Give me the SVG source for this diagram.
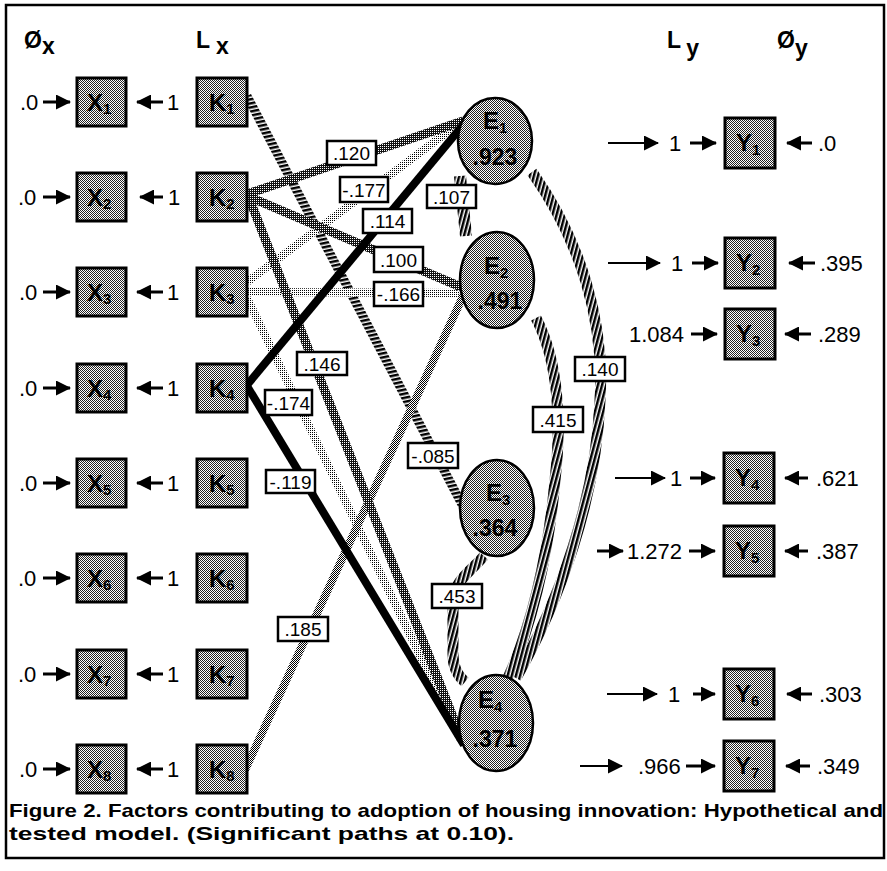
<svg xmlns="http://www.w3.org/2000/svg" width="887" height="871" viewBox="0 0 887 871">
<defs>
<style>
text{font-family:"Liberation Sans",Arial,Helvetica,sans-serif;fill:#000}
.n{font-size:22px}
.h{font-size:23px;font-weight:bold}
.bl{font-size:24px;font-weight:bold}
.sb{font-size:15px}
.lb{font-size:19px;text-anchor:middle}
.ev{font-size:23px;font-weight:bold;text-anchor:middle}
.cap{font-size:19px;font-weight:bold}
.box{fill:url(#fine);stroke:#000;stroke-width:3}
.ell{fill:url(#fine);stroke:#000;stroke-width:2.5}
.lab{fill:#fff;stroke:#000;stroke-width:2.5}
.arr{stroke:#000;stroke-width:3;fill:none;marker-end:url(#ah)}
.la{stroke:#000;stroke-width:2;fill:none;marker-end:url(#ah)}
.p{fill:none}
.blk{stroke:#000;stroke-width:8}
.dk{stroke:url(#pdk);stroke-width:9}
.md{stroke:url(#pmd);stroke-width:8}
.lt{stroke:url(#plt);stroke-width:8}
.hh{stroke:url(#hatchH);stroke-width:9}
.hv{stroke:url(#hatchV);stroke-width:11}
</style>
<pattern id="fine" width="2" height="2" patternUnits="userSpaceOnUse"><rect width="2" height="2" fill="#fff"/><rect width="1" height="1" fill="#222"/><rect x="1" y="1" width="1" height="1" fill="#222"/></pattern>
<pattern id="pmd" width="2" height="2" patternUnits="userSpaceOnUse"><rect width="2" height="2" fill="#fff"/><rect width="1" height="1" fill="#000"/><rect x="1" y="1" width="1" height="1" fill="#000"/></pattern>
<pattern id="pdk" width="2" height="2" patternUnits="userSpaceOnUse"><rect width="2" height="2" fill="#111"/><rect width="1" height="1" fill="#fff"/></pattern>
<pattern id="plt" width="2" height="2" patternUnits="userSpaceOnUse"><rect width="2" height="2" fill="#fff"/><rect width="1" height="1" fill="#000"/></pattern>
<pattern id="hatchH" width="4" height="4" patternUnits="userSpaceOnUse" patternTransform="rotate(-12)"><rect width="4" height="4" fill="#fff"/><rect width="4" height="2.5" fill="#000"/></pattern>
<pattern id="hatchV" width="4" height="4" patternUnits="userSpaceOnUse" patternTransform="rotate(15)"><rect width="4" height="4" fill="#fff"/><rect width="2.5" height="4" fill="#000"/></pattern>
<marker id="ah" viewBox="0 0 15 15" refX="14" refY="7.5" markerWidth="15" markerHeight="15" markerUnits="userSpaceOnUse" orient="auto"><path d="M0,0 L15,7.5 L0,15 z" fill="#000"/></marker>
</defs>
<rect width="887" height="871" fill="#fff"/>
<rect x="6" y="5" width="878" height="853" fill="none" stroke="#000" stroke-width="2.5"/>

<g id="headers">
<text class="h" x="24" y="48">Ø<tspan dy="6">x</tspan></text>
<text class="h" x="196" y="48">L<tspan dx="6" dy="6">x</tspan></text>
<text class="h" x="667" y="48">L<tspan dx="6" dy="8">y</tspan></text>
<text class="h" x="777" y="48">Ø<tspan dy="8">y</tspan></text>
</g>

<g id="connectors">
<path class="p hh" d="M247,96 L466,512"/>
<path class="p lt" d="M247,282 L462,121"/>
<path class="p lt" d="M247,292 L460,293"/>
<path class="p lt" d="M247,298 L462,742"/>
<path class="p md" d="M245,770 L464,294"/>
<path class="p dk" d="M247,194 L463,121"/>
<path class="p dk" d="M247,196 L461,287"/>
<path class="p dk" d="M249,198 L462,740"/>
<path class="p blk" d="M247,385 L468,119"/>
<path class="p blk" d="M247,386 L464,745"/>
<path class="p hv" d="M460,176 L466,236" style="stroke-width:12"/>
<path class="p hv" d="M532,172 C580,240 605,320 600,400 C596,500 560,600 516,678"/>
<path class="p hv" d="M536,318 C558,360 562,420 555,480 C548,560 530,630 508,678"/>
<path class="p hv" d="M484,556 C470,572 455,580 453,600 L453,655 C453,668 458,676 465,682"/>
</g>

<g id="io-arrows">
<line class="arr" x1="43" y1="102" x2="70" y2="102"/><line class="arr" x1="163" y1="102" x2="137" y2="102"/>
<line class="arr" x1="43" y1="197" x2="70" y2="197"/><line class="arr" x1="163" y1="197" x2="140" y2="197"/>
<line class="arr" x1="43" y1="292" x2="70" y2="292"/><line class="arr" x1="163" y1="292" x2="137" y2="292"/>
<line class="arr" x1="43" y1="388" x2="70" y2="388"/><line class="arr" x1="163" y1="388" x2="137" y2="388"/>
<line class="arr" x1="43" y1="483" x2="70" y2="483"/><line class="arr" x1="163" y1="483" x2="137" y2="483"/>
<line class="arr" x1="43" y1="578" x2="70" y2="578"/><line class="arr" x1="163" y1="578" x2="137" y2="578"/>
<line class="arr" x1="43" y1="674" x2="70" y2="674"/><line class="arr" x1="163" y1="674" x2="137" y2="674"/>
<line class="arr" x1="43" y1="769" x2="70" y2="769"/><line class="arr" x1="163" y1="769" x2="137" y2="769"/>

<line class="la" x1="608" y1="143" x2="658" y2="143"/><line class="arr" x1="690" y1="143" x2="716" y2="143"/><line class="arr" x1="812" y1="143" x2="787" y2="143"/>
<line class="la" x1="608" y1="263" x2="660" y2="263"/><line class="arr" x1="692" y1="263" x2="718" y2="263"/><line class="arr" x1="815" y1="263" x2="789" y2="263"/>
<line class="arr" x1="691" y1="334" x2="717" y2="334"/><line class="arr" x1="811" y1="334" x2="785" y2="334"/>
<line class="la" x1="615" y1="478" x2="665" y2="478"/><line class="arr" x1="690" y1="478" x2="715" y2="478"/><line class="arr" x1="808" y1="478" x2="785" y2="478"/>
<line class="arr" x1="597" y1="551" x2="623" y2="551"/><line class="arr" x1="689" y1="551" x2="715" y2="551"/><line class="arr" x1="808" y1="551" x2="785" y2="551"/>
<line class="la" x1="607" y1="694" x2="657" y2="694"/><line class="arr" x1="693" y1="694" x2="715" y2="694"/><line class="arr" x1="812" y1="694" x2="787" y2="694"/>
<line class="la" x1="580" y1="766" x2="622" y2="766"/><line class="arr" x1="686" y1="766" x2="715" y2="766"/><line class="arr" x1="810" y1="766" x2="786" y2="766"/>
</g>

<g id="io-values">
<text class="n" x="20" y="110">.0</text><text class="n" x="167" y="110">1</text>
<text class="n" x="18" y="205">.0</text><text class="n" x="168" y="205">1</text>
<text class="n" x="19" y="300">.0</text><text class="n" x="167" y="300">1</text>
<text class="n" x="19" y="396">.0</text><text class="n" x="167" y="396">1</text>
<text class="n" x="19" y="491">.0</text><text class="n" x="167" y="491">1</text>
<text class="n" x="18" y="586">.0</text><text class="n" x="167" y="586">1</text>
<text class="n" x="18" y="682">.0</text><text class="n" x="167" y="682">1</text>
<text class="n" x="19" y="777">.0</text><text class="n" x="167" y="777">1</text>

<text class="n" x="669" y="151">1</text><text class="n" x="818" y="151">.0</text>
<text class="n" x="671" y="271">1</text><text class="n" x="820" y="271">.395</text>
<text class="n" x="629" y="342">1.084</text><text class="n" x="818" y="342">.289</text>
<text class="n" x="670" y="486">1</text><text class="n" x="816" y="486">.621</text>
<text class="n" x="627" y="559">1.272</text><text class="n" x="816" y="559">.387</text>
<text class="n" x="668" y="702">1</text><text class="n" x="819" y="702">.303</text>
<text class="n" x="638" y="774">.966</text><text class="n" x="817" y="774">.349</text>
</g>

<g id="X1"><rect class="box" x="77" y="78" width="49" height="48"/><text class="bl" x="87" y="111">X<tspan class="sb" dy="3">1</tspan></text></g>
<g id="X2"><rect class="box" x="77" y="173" width="49" height="48"/><text class="bl" x="87" y="206">X<tspan class="sb" dy="3">2</tspan></text></g>
<g id="X3"><rect class="box" x="77" y="268" width="49" height="48"/><text class="bl" x="87" y="301">X<tspan class="sb" dy="3">3</tspan></text></g>
<g id="X4"><rect class="box" x="77" y="364" width="49" height="48"/><text class="bl" x="87" y="397">X<tspan class="sb" dy="3">4</tspan></text></g>
<g id="X5"><rect class="box" x="77" y="459" width="49" height="48"/><text class="bl" x="87" y="492">X<tspan class="sb" dy="3">5</tspan></text></g>
<g id="X6"><rect class="box" x="77" y="554" width="49" height="48"/><text class="bl" x="87" y="587">X<tspan class="sb" dy="3">6</tspan></text></g>
<g id="X7"><rect class="box" x="77" y="650" width="49" height="48"/><text class="bl" x="87" y="683">X<tspan class="sb" dy="3">7</tspan></text></g>
<g id="X8"><rect class="box" x="77" y="745" width="49" height="48"/><text class="bl" x="87" y="778">X<tspan class="sb" dy="3">8</tspan></text></g>

<g id="K1"><rect class="box" x="197" y="78" width="50" height="48"/><text class="bl" x="209" y="111">K<tspan class="sb" dy="3">1</tspan></text></g>
<g id="K2"><rect class="box" x="197" y="173" width="50" height="48"/><text class="bl" x="209" y="206">K<tspan class="sb" dy="3">2</tspan></text></g>
<g id="K3"><rect class="box" x="197" y="268" width="50" height="48"/><text class="bl" x="209" y="301">K<tspan class="sb" dy="3">3</tspan></text></g>
<g id="K4"><rect class="box" x="197" y="364" width="50" height="48"/><text class="bl" x="209" y="397">K<tspan class="sb" dy="3">4</tspan></text></g>
<g id="K5"><rect class="box" x="197" y="459" width="50" height="48"/><text class="bl" x="209" y="492">K<tspan class="sb" dy="3">5</tspan></text></g>
<g id="K6"><rect class="box" x="197" y="554" width="50" height="48"/><text class="bl" x="209" y="587">K<tspan class="sb" dy="3">6</tspan></text></g>
<g id="K7"><rect class="box" x="197" y="650" width="50" height="48"/><text class="bl" x="209" y="683">K<tspan class="sb" dy="3">7</tspan></text></g>
<g id="K8"><rect class="box" x="197" y="745" width="50" height="48"/><text class="bl" x="209" y="778">K<tspan class="sb" dy="3">8</tspan></text></g>

<g id="Y1"><rect class="box" x="725" y="118" width="50" height="50"/><text class="bl" x="736" y="151">Y<tspan class="sb" dy="4">1</tspan></text></g>
<g id="Y2"><rect class="box" x="725" y="238" width="50" height="50"/><text class="bl" x="736" y="271">Y<tspan class="sb" dy="4">2</tspan></text></g>
<g id="Y3"><rect class="box" x="725" y="309" width="50" height="50"/><text class="bl" x="736" y="342">Y<tspan class="sb" dy="4">3</tspan></text></g>
<g id="Y4"><rect class="box" x="724" y="453" width="50" height="50"/><text class="bl" x="735" y="486">Y<tspan class="sb" dy="4">4</tspan></text></g>
<g id="Y5"><rect class="box" x="724" y="526" width="50" height="50"/><text class="bl" x="735" y="559">Y<tspan class="sb" dy="4">5</tspan></text></g>
<g id="Y6"><rect class="box" x="724" y="669" width="50" height="50"/><text class="bl" x="735" y="702">Y<tspan class="sb" dy="4">6</tspan></text></g>
<g id="Y7"><rect class="box" x="724" y="741" width="50" height="50"/><text class="bl" x="735" y="774">Y<tspan class="sb" dy="4">7</tspan></text></g>

<g id="E1"><ellipse class="ell" cx="495" cy="141" rx="37" ry="43"/><text class="bl" x="483" y="129">E<tspan class="sb" dy="4">1</tspan></text><text class="ev" x="495" y="165">.923</text></g>
<g id="E2"><ellipse class="ell" cx="497" cy="280" rx="37" ry="48"/><text class="bl" x="484" y="274">E<tspan class="sb" dy="4">2</tspan></text><text class="ev" x="500" y="309">.491</text></g>
<g id="E3"><ellipse class="ell" cx="497" cy="508" rx="37" ry="48"/><text class="bl" x="486" y="501">E<tspan class="sb" dy="4">3</tspan></text><text class="ev" x="495" y="536">.364</text></g>
<g id="E4"><ellipse class="ell" cx="496" cy="723" rx="37" ry="48"/><text class="bl" x="478" y="708">E<tspan class="sb" dy="4">4</tspan></text><text class="ev" x="495" y="747">.371</text></g>

<g id="path-labels">
<rect class="lab" x="327" y="141" width="49" height="24"/><text class="lb" x="351.5" y="160">.120</text>
<rect class="lab" x="340" y="177" width="48" height="25"/><text class="lb" x="364" y="196.5">-.177</text>
<rect class="lab" x="363" y="209" width="49" height="24"/><text class="lb" x="387.5" y="228">.114</text>
<rect class="lab" x="427" y="185" width="49" height="23"/><text class="lb" x="451.5" y="203.5">.107</text>
<rect class="lab" x="374" y="247" width="49" height="25"/><text class="lb" x="398.5" y="266.5">.100</text>
<rect class="lab" x="374" y="282" width="49" height="24"/><text class="lb" x="398.5" y="301">-.166</text>
<rect class="lab" x="297" y="352" width="50" height="23"/><text class="lb" x="322" y="370.5">.146</text>
<rect class="lab" x="265" y="390" width="47" height="25"/><text class="lb" x="288.5" y="409.5">-.174</text>
<rect class="lab" x="408" y="443" width="50" height="25"/><text class="lb" x="433" y="462.5">-.085</text>
<rect class="lab" x="266" y="470" width="49" height="23"/><text class="lb" x="290.5" y="488.5">-.119</text>
<rect class="lab" x="432" y="584" width="50" height="24"/><text class="lb" x="457" y="603">.453</text>
<rect class="lab" x="278" y="617" width="50" height="24"/><text class="lb" x="303" y="636">.185</text>
<rect class="lab" x="533" y="407" width="50" height="25"/><text class="lb" x="558" y="426.5">.415</text>
<rect class="lab" x="575" y="357" width="50" height="24"/><text class="lb" x="600" y="376">.140</text>
</g>

<g id="caption">
<text class="cap" x="9" y="817" textLength="874" lengthAdjust="spacingAndGlyphs">Figure 2. Factors contributing to adoption of housing innovation: Hypothetical and</text>
<text class="cap" x="9" y="840" textLength="505" lengthAdjust="spacingAndGlyphs">tested model.  (Significant paths at 0.10).</text>
</g>
</svg>
